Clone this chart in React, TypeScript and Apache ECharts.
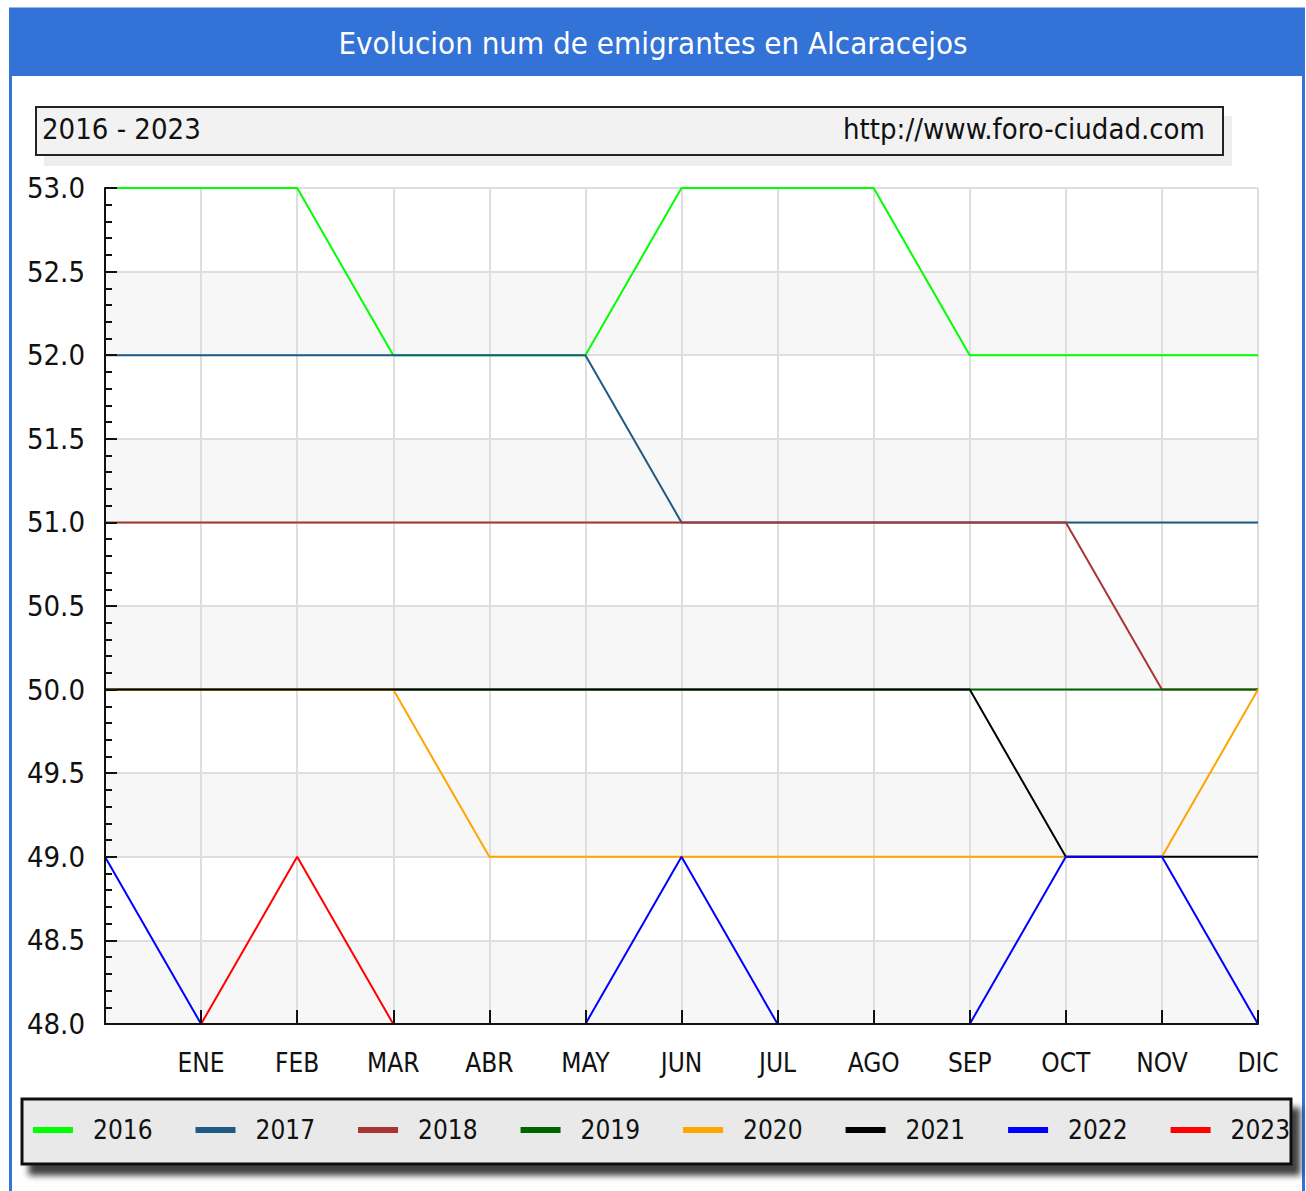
import React, { useEffect, useRef } from 'react';
import * as echarts from 'echarts';

const categories = ['', 'ENE', 'FEB', 'MAR', 'ABR', 'MAY', 'JUN', 'JUL', 'AGO', 'SEP', 'OCT', 'NOV', 'DIC'];
const years = ['2016', '2017', '2018', '2019', '2020', '2021', '2022', '2023'];
const v2016 = [53, 53, 53, 52, 52, 52, 53, 53, 53, 52, 52, 52, 52];
const v2017 = [52, 52, 52, 52, 52, 52, 51, 51, 51, 51, 51, 51, 51];
const v2018 = [51, 51, 51, 51, 51, 51, 51, 51, 51, 51, 51, 50, 50];
const v2019 = [50, 50, 50, 50, 50, 50, 50, 50, 50, 50, 50, 50, 50];
const v2020 = [50, 50, 50, 50, 49, 49, 49, 49, 49, 49, 49, 49, 50];
const v2021 = [50, 50, 50, 50, 50, 50, 50, 50, 50, 50, 49, 49, 49];
const v2022 = [49, 48, 48, 48, 48, 48, 49, 48, 48, 48, 49, 49, 48];
const v2023 = [48, 48, 49, 48];
const seriesValues = [v2016, v2017, v2018, v2019, v2020, v2021, v2022, v2023];
const colors = ['#00ff00', '#1f5a85', '#a83434', '#006400', '#ffa500', '#000000', '#0000ff', '#ff0000'];
const yMin = 48;
const yMax = 53;
const yInterval = 0.5;
const titleText = 'Evolucion num de emigrantes en Alcaracejos';
const periodText = '2016 - 2023';
const siteText = 'http://www.foro-ciudad.com';

const FONT = "'DejaVu Sans Condensed', 'DejaVu Sans', sans-serif";
const INK = '#111111';

export default function App() {
  const ref = useRef<HTMLDivElement>(null);
  useEffect(() => {
    if (!ref.current) return;
    const chart = echarts.init(ref.current, undefined, { renderer: 'svg' });
    const axisInk = { color: INK, width: 2 };
    chart.setOption({
      animation: false,
      backgroundColor: '#ffffff',
      color: colors,
      title: {
        text: titleText,
        left: 'center',
        top: 22,
        textStyle: { color: '#ffffff', fontSize: 31, fontWeight: 'normal', fontFamily: FONT },
      },
      graphic: [
        { type: 'rect', shape: { x: 10.5, y: 9, width: 1293, height: 1260 }, style: { fill: 'none', stroke: '#3372d6', lineWidth: 3 } },
        { type: 'rect', shape: { x: 9, y: 8, width: 1296, height: 68 }, style: { fill: '#3372d6' } },
        { type: 'rect', shape: { x: 44, y: 116, width: 1188, height: 50 }, style: { fill: '#ededed' } },
        { type: 'rect', shape: { x: 36, y: 107, width: 1187, height: 48 }, style: { fill: '#f2f2f2', stroke: '#222222', lineWidth: 2 } },
        { type: 'text', x: 42, y: 129, style: { text: periodText, fill: INK, fontSize: 29, fontFamily: FONT, verticalAlign: 'middle', align: 'left' } },
        { type: 'text', x: 1205, y: 129, style: { text: siteText, fill: INK, fontSize: 29, fontFamily: FONT, verticalAlign: 'middle', align: 'right' } },
        {
          type: 'rect',
          shape: { x: 22, y: 1099, width: 1269, height: 65 },
          style: { fill: '#e9e9e9', stroke: '#111111', lineWidth: 3, shadowBlur: 6, shadowOffsetX: 8, shadowOffsetY: 10, shadowColor: 'rgba(0,0,0,0.75)' },
        },
      ],
      legend: {
        data: years,
        left: 33,
        top: 1116,
        width: 1270,
        padding: 0,
        itemWidth: 40,
        itemHeight: 6,
        itemGap: 43,
        icon: 'rect',
        textStyle: { color: INK, fontSize: 26, lineHeight: 28, fontFamily: FONT, padding: [0, 0, 0, 15] },
      },
      grid: { left: 105, right: 48, top: 188, bottom: 167, containLabel: false },
      xAxis: [
        {
          type: 'category',
          data: categories,
          boundaryGap: false,
          position: 'bottom',
          axisLine: { show: false },
          axisTick: { show: false },
          axisLabel: { interval: 0, margin: 26, color: INK, fontSize: 26, fontFamily: FONT },
          splitLine: { show: true, interval: 0, lineStyle: { color: '#dedede', width: 2 } },
        },
        {
          type: 'category',
          data: categories,
          boundaryGap: false,
          position: 'bottom',
          z: 10,
          axisLine: { show: true, lineStyle: axisInk },
          axisTick: { show: true, inside: true, length: 14, interval: 0, lineStyle: axisInk },
          axisLabel: { show: false },
          splitLine: { show: false },
        },
      ],
      yAxis: [
        {
          type: 'value',
          min: yMin,
          max: yMax,
          interval: yInterval,
          position: 'left',
          axisLine: { show: false },
          axisTick: { show: false },
          axisLabel: { margin: 20, color: INK, fontSize: 29, fontFamily: FONT, formatter: (v: number) => v.toFixed(1) },
          splitLine: { show: true, lineStyle: { color: '#dedede', width: 2 } },
          splitArea: { show: true, areaStyle: { color: ['#f7f7f7', '#ffffff'] } },
        },
        {
          type: 'value',
          min: yMin,
          max: yMax,
          interval: yInterval,
          position: 'left',
          z: 10,
          axisLine: { show: true, lineStyle: axisInk },
          axisTick: { show: true, inside: true, length: 12, lineStyle: axisInk },
          minorTick: { show: true, splitNumber: 5, length: 7, lineStyle: axisInk },
          axisLabel: { show: false },
          splitLine: { show: false },
          splitArea: { show: false },
        },
      ],
      series: years.map((y, i) => ({
        name: y,
        type: 'line',
        xAxisIndex: 0,
        yAxisIndex: 0,
        data: seriesValues[i],
        symbol: 'none',
        lineStyle: { width: 2, color: colors[i] },
        itemStyle: { color: colors[i] },
      })),
    });
    return () => chart.dispose();
  }, []);
  return (
    <div
      ref={ref}
      style={{ position: 'absolute', left: 0, top: 0, width: 1306, height: 1191, background: '#ffffff' }}
    />
  );
}
